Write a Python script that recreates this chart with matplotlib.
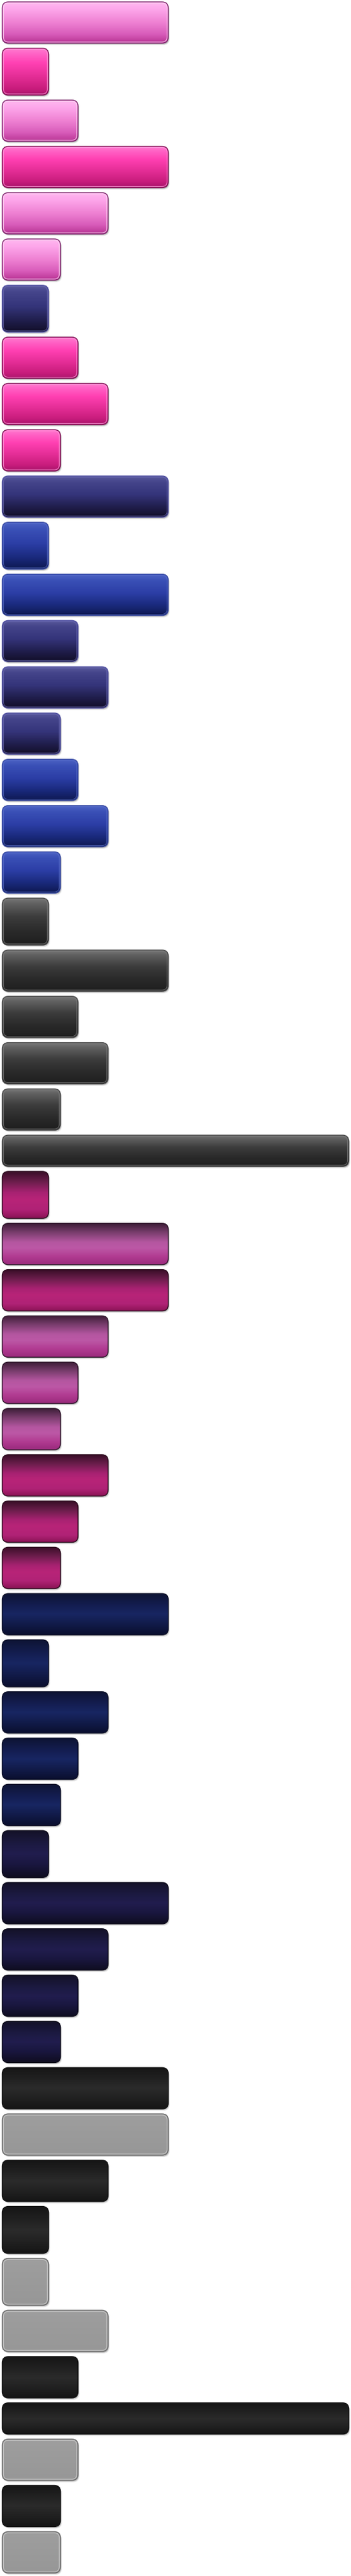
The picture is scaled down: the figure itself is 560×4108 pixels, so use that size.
import numpy as np
import matplotlib
matplotlib.use("Agg")
import matplotlib.pyplot as plt
from matplotlib.patches import FancyBboxPatch
from matplotlib.colors import to_rgb

# ---------------- data ----------------
values = [266, 75, 122, 266, 170, 94, 75, 122, 170, 94,
          266, 75, 266, 122, 170, 94, 122, 170, 94, 75,
          266, 122, 170, 94, 554, 75, 266, 266, 170, 122,
          94, 170, 122, 94, 266, 75, 170, 122, 94, 75,
          266, 170, 122, 94, 266, 266, 170, 75, 75, 170,
          122, 554, 122, 94, 94]
groups = ["pink_light", "pink_hot", "pink_light", "pink_hot", "pink_light",
          "pink_light", "violet", "pink_hot", "pink_hot", "pink_hot",
          "violet", "blue", "blue", "violet", "violet",
          "violet", "blue", "blue", "blue", "black_gloss",
          "black_gloss", "black_gloss", "black_gloss", "black_gloss", "black_gloss",
          "magenta", "mauve", "magenta", "mauve", "mauve",
          "mauve", "magenta", "magenta", "magenta", "navy",
          "navy", "navy", "navy", "navy", "indigo",
          "indigo", "indigo", "indigo", "indigo", "black",
          "grey", "black", "black", "grey", "grey",
          "black", "black", "grey", "black", "grey"]

# ---------------- style ----------------
palettes = {
    "pink_light": dict(stops=[(0, "#ffb8f0"), (0.18, "#fda6ea"), (0.5, "#ee80d2"),
                              (0.78, "#d85cba"), (0.93, "#c2409f"), (1, "#b03292")],
                       edge="#7c2a6c", inner="#ffd6f4", inner_alpha=0.85),
    "pink_hot": dict(stops=[(0, "#ff7ad0"), (0.15, "#ff5cc2"), (0.32, "#ff40b2"),
                            (0.62, "#e22c94"), (0.86, "#c81c7c"), (1, "#a8146a")],
                     edge="#7a1452", inner="#ff9ada", inner_alpha=0.8),
    "violet": dict(stops=[(0, "#5a5a9c"), (0.15, "#44448a"), (0.45, "#34347a"),
                          (0.75, "#201e4c"), (1, "#120e28")],
                   edge="#5656a6", inner="#6c6cb6", inner_alpha=0.7),
    "blue": dict(stops=[(0, "#4c62c4"), (0.15, "#3a50b6"), (0.45, "#2c3ea6"),
                        (0.75, "#1a2a7c"), (1, "#0e1850")],
                 edge="#3c4ea4", inner="#5a70cc", inner_alpha=0.7),
    "black_gloss": dict(stops=[(0, "#787878"), (0.12, "#606060"), (0.4, "#3c3c3c"),
                               (0.7, "#2a2a2a"), (1, "#1e1e1e")],
                        edge="#4a4a4a", inner="#7a7a7a", inner_alpha=0.8),
    "magenta": dict(stops=[(0, "#3a0f28"), (0.22, "#6c1e4c"), (0.45, "#a82272"),
                           (0.6, "#b82478"), (0.82, "#b02276"), (0.92, "#9c1a64"),
                           (1, "#8a1456")],
                    edge="#2a0a1c", inner=None, inner_alpha=0),
    "mauve": dict(stops=[(0, "#3e1e38"), (0.22, "#7a3e6e"), (0.45, "#b456a0"),
                         (0.6, "#bc58a6"), (0.8, "#b23c92"), (1, "#9a2a7c")],
                  edge="#2c1428", inner=None, inner_alpha=0),
    "navy": dict(stops=[(0, "#0e1434"), (0.3, "#141e52"), (0.5, "#182662"),
                        (0.72, "#121c4c"), (1, "#0a0f2e")],
                 edge="#0a0e26", inner=None, inner_alpha=0),
    "indigo": dict(stops=[(0, "#141228"), (0.3, "#1c1a42"), (0.5, "#211d4e"),
                          (0.72, "#1a1740"), (1, "#0f0d20")],
                   edge="#0c0a1a", inner=None, inner_alpha=0),
    "black": dict(stops=[(0, "#161616"), (0.3, "#222222"), (0.5, "#2b2b2b"),
                         (0.72, "#222222"), (1, "#151515")],
                  edge="#111111", inner=None, inner_alpha=0),
    "grey": dict(stops=[(0, "#9e9e9e"), (1, "#979797")],
                 edge="#6a6a6a", inner="#c6c6c6", inner_alpha=1.0),
}

W, H = 560, 4108
GAP = 7.8
TOP = 3.0
RADIUS = 10


def thickness(v):
    if v == min(values):
        return 75.0
    if v == max(values):
        return 50.0
    return 66.0


def gradient(stops, n=128):
    pos = np.array([s[0] for s in stops])
    cols = np.array([to_rgb(s[1]) for s in stops])
    t = np.linspace(0, 1, n)
    out = np.stack([np.interp(t, pos, cols[:, k]) for k in range(3)], axis=1)
    return out[:, None, :]


# layout of bar slots (computed from thickness)
heights = [thickness(v) for v in values]
centers = []
y = TOP
for h in heights:
    centers.append(y + h / 2)
    y += h + GAP

fig = plt.figure(figsize=(W / 100, H / 100), dpi=100)
fig.patch.set_facecolor("white")
ax = fig.add_axes([0, 0, 1, 1])
ax.set_axis_off()

bars = ax.barh(centers, values, height=heights, left=0, color="none", edgecolor="none")

px = 0.72  # points per pixel at 100 dpi
for rect, g in zip(bars.patches, groups):
    pal = palettes[g]
    x0, y0 = rect.get_x(), rect.get_y()
    w, h = rect.get_width(), rect.get_height()
    x0 += 0.5
    w -= 1.0
    # soft shadow
    for dx, dy, a in [(2.2, 3.0, 0.18), (1.3, 1.8, 0.45)]:
        sh = FancyBboxPatch((x0 + dx, y0 + dy), w, h,
                            boxstyle=f"round,pad=0,rounding_size={RADIUS}",
                            facecolor="#8a8a8a", edgecolor="none", alpha=a, zorder=1)
        ax.add_patch(sh)
    body = FancyBboxPatch((x0, y0), w, h,
                          boxstyle=f"round,pad=0,rounding_size={RADIUS}",
                          facecolor="none", edgecolor=pal["edge"],
                          linewidth=1.4 * px, zorder=4)
    ax.add_patch(body)
    clip = FancyBboxPatch((x0, y0), w, h,
                          boxstyle=f"round,pad=0,rounding_size={RADIUS}",
                          facecolor="none", edgecolor="none", zorder=2)
    ax.add_patch(clip)
    im = ax.imshow(gradient(pal["stops"]), extent=(x0, x0 + w, y0 + h, y0),
                   origin="upper", aspect="auto", interpolation="bilinear", zorder=2)
    im.set_clip_path(clip)
    if pal["inner"] is not None:
        ins = 2.0
        inner = FancyBboxPatch((x0 + ins, y0 + ins), w - 2 * ins, h - 2 * ins,
                               boxstyle=f"round,pad=0,rounding_size={RADIUS - ins}",
                               facecolor="none", edgecolor=pal["inner"],
                               alpha=pal["inner_alpha"], linewidth=1.1 * px, zorder=3)
        ax.add_patch(inner)

ax.set_xlim(-3, W - 3)
ax.set_ylim(H, 0)

fig.savefig("out.png", dpi=100, facecolor="white")
